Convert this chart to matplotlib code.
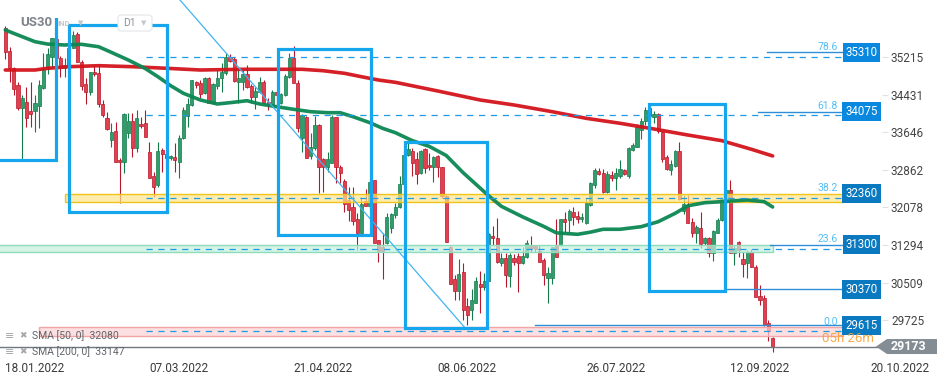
import matplotlib
matplotlib.use('Agg')
import matplotlib.pyplot as plt
from matplotlib.patches import Rectangle, Polygon, FancyBboxPatch
from matplotlib.transforms import blended_transform_factory, IdentityTransform
import numpy as np

plt.rcParams['font.family'] = ['Roboto', 'DejaVu Sans']

# ---------------- data ----------------
opens = [35827, 35340, 34980, 34631, 34157, 34270, 34088, 34088, 34197, 34562,
         34980, 35222, 35600, 35188, 34990, 35050, 35397, 35689, 35117, 34646,
         34478, 34909, 34875, 34228, 33949, 33483, 33671, 33066, 33030, 33622,
         33880, 33310, 33817, 33831, 33239, 32732, 32544, 33275, 33185, 33101,
         33135, 33030, 33519, 33990, 34214, 34687, 34679, 34458, 34771, 34262,
         34610, 34771, 34875, 35209, 35180, 34700, 34700, 34860, 34610, 34387,
         34491, 34700, 34283, 34214, 34491, 34262, 34422, 34792, 35188, 34679,
         33520, 33970, 33149, 33310, 33796, 33080, 32913, 33009, 33957, 32926,
         32634, 32231, 32091, 31828, 31549, 32216, 32106, 32648, 31386, 31257,
         31327, 31653, 31918, 32078, 32565, 33170, 33260, 33080, 32788, 33302,
         32968, 32913, 33149, 32913, 32314, 31257, 30576, 30338, 30735, 30019,
         29935, 30088, 30478, 30422, 30547, 31480, 31432, 30922, 31014, 30645,
         31027, 31063, 30922, 31035, 31292, 31271, 31173, 30979, 30597, 30597,
         31292, 31292, 31828, 31814, 31987, 31897, 31828, 31745, 32127, 32544,
         32836, 32788, 32405, 32753, 32684, 32732, 32857, 32732, 33275, 33344,
         33692, 33880, 34145, 33970, 34026, 33656, 33135, 32857, 32940, 33253,
         32008, 32127, 31778, 31549, 31640, 31327, 31431, 31132, 31549, 31814,
         32231, 32440, 31118, 31362, 31000, 30922, 31153, 30826, 30227, 30179,
         29658, 29345]
highs = [35856, 35418, 35000, 34700, 34422, 34596, 34700, 34422, 34735, 35292,
         35397, 35618, 35700, 35242, 35200, 35450, 35758, 35744, 35153, 34771,
         34909, 35049, 35049, 34318, 34074, 33832, 33865, 33108, 34040, 34040,
         34040, 34109, 33970, 34109, 33448, 32822, 33448, 33310, 33300, 33160,
         33427, 33588, 34178, 34353, 34735, 34714, 34735, 34804, 34804, 34679,
         34944, 35084, 35292, 35278, 35222, 35000, 34944, 35049, 34652, 34596,
         34804, 34735, 34353, 34527, 34527, 34470, 34861, 35292, 35445, 34735,
         34026, 33990, 33623, 33984, 33817, 33100, 33239, 34005, 33970, 32961,
         32663, 32500, 32509, 31954, 32300, 32454, 32700, 32648, 31400, 31536,
         31954, 31960, 32162, 32732, 33250, 33414, 33310, 33239, 33270, 33310,
         33218, 33149, 33180, 32930, 32335, 31270, 30666, 30993, 30910, 30179,
         30367, 30630, 30756, 30700, 31536, 31689, 31849, 31118, 31118, 31118,
         31110, 31118, 31257, 31396, 31480, 31300, 31292, 31014, 30839, 31260,
         31828, 31840, 31987, 32037, 32078, 32000, 31960, 32273, 32600, 32899,
         32894, 32884, 32840, 32836, 32899, 33066, 32884, 33344, 33421, 33811,
         33936, 34180, 34193, 34082, 34053, 33680, 33160, 33066, 33275, 33448,
         32335, 32335, 31855, 31709, 31987, 31460, 31460, 31610, 31849, 32300,
         32509, 32648, 31292, 31370, 31153, 31180, 31200, 30870, 30457, 30240,
         29727, 29378]
lows = [35174, 34700, 34422, 34100, 33045, 33761, 33761, 33657, 33727, 34548,
        34854, 35013, 35150, 34804, 34800, 34950, 35397, 35117, 34527, 34228,
        34422, 34825, 34178, 33970, 33692, 33344, 33030, 32175, 32788, 33519,
        33135, 33239, 33727, 33552, 32684, 32300, 32509, 32822, 32950, 33060,
        32822, 32697, 33504, 33761, 34200, 34568, 34353, 34443, 34249, 34249,
        34541, 34491, 34840, 35117, 34700, 34250, 34527, 34562, 34249, 34124,
        34470, 34235, 34109, 34165, 34178, 34235, 34402, 34771, 34667, 33657,
        33239, 33101, 33081, 33275, 32371, 32400, 32822, 32996, 32580, 32580,
        31987, 31799, 31709, 31188, 31536, 32106, 32050, 31327, 30943, 30576,
        31320, 31536, 31850, 32060, 32500, 33150, 32732, 32565, 32775, 32801,
        32850, 32613, 32720, 32266, 31361, 30478, 30144, 30144, 29727, 29622,
        29727, 30075, 29879, 30350, 30530, 31292, 30910, 30854, 30409, 30409,
        30870, 30317, 30900, 31030, 31152, 31150, 30930, 30457, 30088, 30480,
        31035, 31270, 31569, 31569, 31709, 31750, 31778, 31740, 32100, 32481,
        32753, 32377, 32380, 32634, 32440, 32700, 32746, 32684, 33260, 33330,
        33498, 33800, 33832, 33832, 33636, 33030, 32857, 32753, 32920, 32231,
        31939, 31757, 31466, 31327, 31222, 31292, 31048, 30964, 31540, 31800,
        32175, 31118, 30874, 31048, 30630, 30597, 30826, 30200, 30040, 29600,
        29295, 29065]
closes = [35313, 34980, 34548, 34145, 34353, 33949, 34033, 34255, 34631, 34965,
          35272, 35606, 35200, 34980, 35050, 35400, 35675, 35117, 34616, 34478,
          34896, 34854, 34228, 34005, 33713, 33644, 33030, 33018, 34020, 33880,
          33322, 33936, 33775, 33552, 32684, 32509, 33253, 33185, 33110, 33150,
          33066, 33519, 34109, 34228, 34735, 34631, 34443, 34771, 34262, 34652,
          34770, 34909, 35209, 35138, 34721, 34780, 34860, 34583, 34387, 34512,
          34700, 34262, 34234, 34491, 34422, 34443, 34819, 35188, 34679, 33727,
          34005, 33101, 33331, 33796, 32926, 32926, 33080, 33957, 32926, 32801,
          32148, 32022, 31799, 31536, 32148, 32106, 32600, 31327, 31173, 31173,
          31870, 31939, 32078, 32565, 33170, 33289, 33010, 32774, 33260, 32893,
          32913, 33122, 32913, 32314, 31361, 30478, 30338, 30680, 29935, 29831,
          30144, 30547, 30422, 30540, 31522, 31432, 30943, 31014, 30666, 31083,
          30943, 30922, 31063, 31327, 31223, 31202, 30943, 30666, 30714, 31244,
          31035, 31828, 31778, 32008, 31870, 31841, 31883, 32175, 32580, 32857,
          32774, 32405, 32774, 32684, 32788, 32872, 32774, 33310, 33379, 33760,
          33886, 34100, 33984, 34026, 33677, 33080, 32872, 32982, 33260, 32245,
          32148, 31757, 31536, 31661, 31313, 31431, 31132, 31590, 31814, 32250,
          32440, 31118, 31222, 31188, 30895, 31153, 30826, 30213, 30144, 29622,
          29503, 29173]

sma50_idx = [0, 4, 7, 10, 14, 18, 22, 25, 29, 33, 36, 39, 42, 46, 50, 53, 57, 60, 64, 68,
             72, 76, 79, 82, 86, 89, 92, 96, 100, 104, 108, 111, 114, 117, 122, 127, 130,
             135, 138, 141, 145, 150, 154, 158, 161, 165, 169, 175, 179, 181]
sma50_val = [35779, 35639, 35535, 35485, 35466, 35480, 35430, 35313, 35153, 34975, 34804,
             34617, 34458, 34318, 34235, 34262, 34303, 34235, 34178, 34124, 34074, 34053,
             34053, 33970, 33844, 33727, 33636, 33470, 33350, 33160, 32800, 32560, 32320,
             32100, 31880, 31680, 31545, 31515, 31560, 31620, 31620, 31674, 31778, 31953,
             32110, 32175, 32196, 32231, 32196, 32085]
sma200_idx = [0, 7, 10, 15, 22, 30, 38, 46, 56, 70, 75, 80, 84, 88, 92, 102, 112, 120,
              129, 137, 145, 153, 161, 169, 176, 181]
sma200_val = [34944, 34944, 34980, 35013, 35034, 35013, 34980, 34944, 34959, 34959, 34929,
              34875, 34804, 34735, 34687, 34506, 34318, 34214, 34074, 33936, 33832, 33713,
              33587, 33469, 33289, 33150]
sma50_last, sma200_last = 32080, 33147

y_ticks = [35215, 34431, 33646, 32862, 32078, 31294, 30509, 29725]
x_tick_idx = [0, 34, 68, 102, 137, 171, 204]
x_tick_lbl = ["18.01.2022", "07.03.2022", "21.04.2022", "08.06.2022",
              "26.07.2022", "12.09.2022", "20.10.2022"]

# drawings (bar index, price)
boxes = [(-3, 12.0, 33066, 36600), (15.0, 38.1, 31981, 35883), (64.3, 86.3, 31500, 35385),
         (94.2, 113.6, 29566, 33448), (151.8, 169.8, 30332, 34234)]
trend_x = [41.2, 108.4]
trend_y = [36405, 29566]
fib_low, fib_high = 29487, 36781
fib_ratios = [0.0, 0.236, 0.382, 0.618, 0.786]
fib_start, fib_end = 33.2, 197.6
level_prices = [35310, 34075, 32360, 31300, 30370, 29615]
level_start = [179.6, 177.5, None, 180.3, 169.7, 124.9]
level_colors = ['#0a88e0', '#0a88e0', '#0a79c0', '#0a79c0', '#0a79c0', '#0a79c0']
zones = [(14.1, 197.6, 32190, 32360, '#fde58a', '#f0c41b'),
         (-2, 181.0, 31150, 31300, '#c4f0dc', '#8fdcbc'),
         (7.9, 197.6, 29395, 29570, '#fbd2d3', '#f2a6a8')]
last_price = 29173

# ---------------- figure ----------------
W, H = 949, 384
fig = plt.figure(figsize=(W / 100, H / 100), dpi=100)
ax = fig.add_axes([0, 29 / H, 885 / W, 355 / H])
ax.set_xlim(-1.25, 207.5)
ax.set_ylim(28996, 36405)
for s in ax.spines.values():
    s.set_visible(False)

idx = np.arange(len(opens))
o, h, l, c = map(np.array, (opens, highs, lows, closes))
up = c >= o
fill = np.where(up, '#2f9e6c', '#e2404f')
edge = np.where(up, '#157a4a', '#b8162a')
ax.vlines(idx, l, h, colors=edge, lw=0.8, zorder=3)
body_lo = np.minimum(o, c)
body_h = np.maximum(np.abs(c - o), 18)
ax.bar(idx, body_h, bottom=body_lo, width=0.74, color=fill, edgecolor=edge,
       linewidth=0.5, zorder=3)

# SMAs
ax.plot(sma200_idx, sma200_val, color='#d3141c', lw=2.6, alpha=0.95, zorder=5,
        solid_capstyle='round')
ax.plot(sma50_idx, sma50_val, color='#0b8753', lw=2.6, alpha=0.95, zorder=5,
        solid_capstyle='round')

# zones
for x0, x1, y0, y1, fc, ec in zones:
    ax.add_patch(Rectangle((x0, y0), x1 - x0, y1 - y0, facecolor=fc, alpha=0.7,
                           edgecolor='none', zorder=4))
    ax.add_patch(Rectangle((x0, y0), x1 - x0, y1 - y0, facecolor='none',
                           edgecolor=ec, lw=1.0, zorder=4))

# fib levels
blend = blended_transform_factory(ax.transAxes, ax.transData)
for r in fib_ratios:
    p = fib_low + r * (fib_high - fib_low)
    ax.plot([fib_start, fib_end], [p, p], color='#1e9be5', lw=0.9,
            dashes=(5, 4.5), zorder=5)
    ax.annotate(f"{r * 100:.1f}", xy=(837.5 / 885, p), xycoords=blend,
                xytext=(0, 3.5), textcoords='offset points', ha='right', va='bottom',
                fontsize=7.5, color='#52bdf5', zorder=8)

# horizontal levels with price tags
for p, x0, col in zip(level_prices, level_start, level_colors):
    if x0 is not None:
        ax.plot([x0, fib_end], [p, p], color='#2e8fd8', lw=1.0, zorder=6)
    ax.text(861.5 / 885, p, f"{p}", transform=blend, ha='center', va='center',
            fontsize=8.3, color='white', zorder=9,
            bbox=dict(boxstyle='square,pad=0.25', fc=col, ec='none'))

# trend line
ax.plot(trend_x, trend_y, color='#42b4f0', lw=0.9, zorder=6)

# boxes
for x0, x1, y0, y1 in boxes:
    ax.add_patch(Rectangle((x0, y0), x1 - x0, y1 - y0, facecolor='none',
                           edgecolor='#16a6ee', lw=2.3, zorder=7))

# current price line
ax.axhline(last_price, color='#6f7880', lw=1.0, zorder=6)

# axes ticks
ax.yaxis.tick_right()
ax.set_yticks(y_ticks)
ax.set_yticklabels([str(t) for t in y_ticks])
ax.tick_params(axis='y', direction='inout', length=5, width=0.8, color='#e2e2e2',
               pad=1.8, labelsize=8.5, labelcolor='#454545')
ax.set_xticks(x_tick_idx)
ax.set_xticklabels(x_tick_lbl)
ax.tick_params(axis='x', length=0, pad=5, labelsize=8.5, labelcolor='#3a3a3a')
for t in ax.get_xticklabels():
    t.set_ha('left')

# ---- overlays in pixel coordinates ----
ident = IdentityTransform()
fig.add_artist(Rectangle((0, H - 18), 100, 18, transform=ident, facecolor='white',
                         edgecolor='none', zorder=2))
fig.text(20, H - 22, 'US30', transform=ident, fontsize=9.5, fontweight='bold',
         color='#7f848b', va='center', ha='left', zorder=3)
fig.text(57, H - 24, 'IND', transform=ident, fontsize=5.5, fontweight='bold',
         color='#c4c7cb', va='center', ha='left', zorder=3)
fig.text(78, H - 23, '▼', transform=ident, fontsize=5, color='#c4c7cb',
         va='center', ha='left', family='DejaVu Sans', zorder=3)
fig.add_artist(FancyBboxPatch((118, H - 31), 34, 16, boxstyle='round,pad=0,rounding_size=3',
                              transform=ident, facecolor='white', edgecolor='#e3e5e8',
                              lw=0.8, zorder=2))
fig.text(123, H - 23, 'D1', transform=ident, fontsize=7.5, color='#8c9199',
         va='center', ha='left', zorder=3)
fig.text(141, H - 23, '▼', transform=ident, fontsize=5, color='#c4c7cb',
         va='center', ha='left', family='DejaVu Sans', zorder=3)

# legend
for yy, name, val in [(336, 'SMA [50, 0]', sma50_last), (352, 'SMA [200, 0]', sma200_last)]:
    fig.text(5, H - yy, '≡', transform=ident, fontsize=8, color='#a3a7ab',
             va='center', ha='left', family='DejaVu Sans', zorder=3)
    fig.text(19, H - yy, '✖', transform=ident, fontsize=6.5, color='#a3a7ab',
             va='center', ha='left', family='DejaVu Sans', zorder=3)
    fig.text(32, H - yy, f"{name}  {val}", transform=ident, fontsize=7.5,
             color='#60656a', va='center', ha='left', zorder=3)

# countdown
fig.text(822, H - 339, '05h 26m', transform=ident, fontsize=9.5, color='#f7a035',
         alpha=0.9, va='center', ha='left', zorder=3)

# current price tag
yd = ax.transData.transform((0, last_price))[1]
fig.add_artist(Polygon([(876, yd), (887, yd + 7.5), (937, yd + 7.5), (937, yd - 7.5),
                        (887, yd - 7.5)], closed=True, transform=ident,
                       facecolor='#858d94', edgecolor='none', zorder=2))
fig.text(908, yd, f"{last_price}", transform=ident, fontsize=9, fontweight='bold',
         color='white', va='center', ha='center', zorder=3)

fig.savefig('out.png', dpi=100, facecolor='white')
